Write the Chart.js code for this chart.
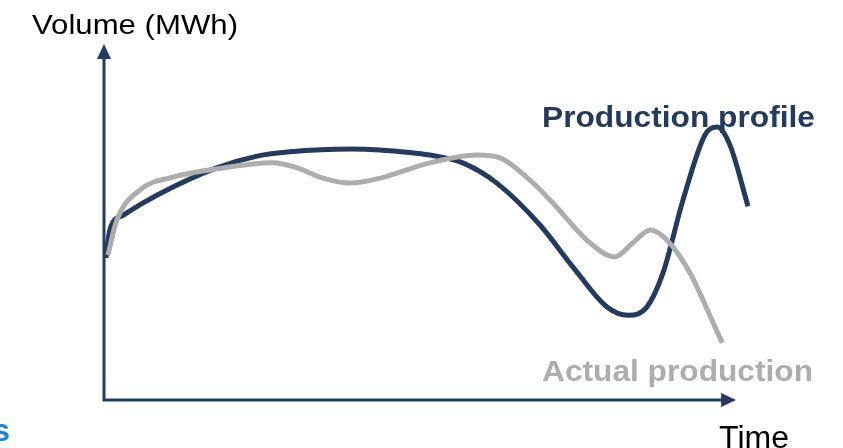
<!DOCTYPE html>
<html lang="en">
<head>
    <meta charset="UTF-8">
    <title>Production profile vs actual production</title>
    <script src="https://cdn.jsdelivr.net/npm/chart.js"></script>
    <style>
        html, body { margin: 0; padding: 0; background: #fff; }
        #wrap { width: 843px; height: 448px; }
    </style>
</head>
<body>
    <div id="wrap"><canvas id="profileChart" width="843" height="448"></canvas></div>

    <script>
        // time (0-100) and volume (0-100)
        const profileTime = [0.3, 0.9, 3.0, 8.2, 17.5, 23.8, 28.9, 38.2, 42.9, 50.6, 55.7, 61.0, 67.7, 72.8, 78.1, 81.4, 84.3, 86.8, 89.9, 93.3, 95.2, 97.2, 100];
        const profileVolume = [40.0, 47.9, 52.1, 57.7, 65.4, 68.7, 69.9, 70.7, 70.4, 69.0, 66.8, 61.1, 49.3, 37.5, 26.2, 23.9, 26.2, 35.8, 56.3, 74.6, 76.9, 71.8, 54.6];

        const actualTime = [0.6, 2.0, 5.6, 10.7, 17.5, 26.2, 30.0, 34.0, 38.2, 42.9, 50.6, 57.9, 61.5, 66.1, 69.3, 75.5, 79.3, 82.1, 84.8, 87.4, 91.0, 94.6, 96.0];
        const actualVolume = [40.8, 50.7, 59.2, 62.8, 65.1, 66.8, 65.4, 62.5, 61.1, 62.5, 66.8, 69.0, 68.2, 62.0, 56.3, 44.2, 40.3, 44.2, 47.9, 45.1, 35.8, 21.7, 16.1];

        const seriesNames = ['Production profile', 'Actual production'];
        const axisTitles = ['Volume (MWh)', 'Time'];

        const NAVY = '#243a5e';
        const GREY = '#adadad';
        const FONT = '"Liberation Sans", Arial, sans-serif';

        function toPoints(xs, ys) {
            return xs.map((x, i) => ({ x: x, y: ys[i] }));
        }

        // text squeezed/stretched to the width it has in the slide
        function fitText(ctx, text, left, baseline, width, font) {
            ctx.font = font;
            const w = ctx.measureText(text).width;
            ctx.save();
            ctx.translate(left, baseline);
            ctx.scale(width / w, 1);
            ctx.fillText(text, 0, 0);
            ctx.restore();
        }

        // axes with arrow heads plus the free-floating labels
        const sketchPlugin = {
            id: 'sketch',
            beforeDatasetsDraw(chart) {
                const ctx = chart.ctx;
                const xs = chart.scales.x, ys = chart.scales.y;
                const x0 = xs.getPixelForValue(0), y0 = ys.getPixelForValue(0);
                const yTop = ys.getPixelForValue(100);
                const xEnd = xs.getPixelForValue(98);
                ctx.save();
                ctx.strokeStyle = NAVY;
                ctx.fillStyle = NAVY;
                ctx.lineWidth = 3;
                ctx.beginPath();
                ctx.moveTo(x0, yTop + 12);
                ctx.lineTo(x0, y0);
                ctx.lineTo(xEnd - 12, y0);
                ctx.stroke();
                // up arrow
                ctx.beginPath();
                ctx.moveTo(x0, yTop - 1);
                ctx.lineTo(x0 - 7, yTop + 14);
                ctx.lineTo(x0 + 7, yTop + 14);
                ctx.closePath();
                ctx.fill();
                // right arrow
                ctx.beginPath();
                ctx.moveTo(xEnd + 1, y0);
                ctx.lineTo(xEnd - 14, y0 - 7);
                ctx.lineTo(xEnd - 14, y0 + 7);
                ctx.closePath();
                ctx.fill();
                ctx.restore();
            },
            afterDatasetsDraw(chart) {
                const ctx = chart.ctx;
                ctx.save();
                ctx.textBaseline = 'alphabetic';
                ctx.textAlign = 'left';
                ctx.fillStyle = '#000';
                fitText(ctx, axisTitles[0], 32, 34, 206, '28px ' + FONT);
                fitText(ctx, axisTitles[1], 719, 448, 70, '31px ' + FONT);
                ctx.fillStyle = NAVY;
                fitText(ctx, seriesNames[0], 542, 127, 273, 'bold 30px ' + FONT);
                ctx.fillStyle = GREY;
                fitText(ctx, seriesNames[1], 542, 381, 271, 'bold 30px ' + FONT);
                // tail of a word cut off at the slide edge
                ctx.fillStyle = '#1a87c8';
                ctx.font = 'bold 32px ' + FONT;
                ctx.textAlign = 'right';
                ctx.fillText('s', 10, 441);
                ctx.restore();
            }
        };

        new Chart(document.getElementById('profileChart'), {
            type: 'line',
            data: {
                datasets: [
                    {
                        label: seriesNames[1],
                        data: toPoints(actualTime, actualVolume),
                        borderColor: GREY,
                        borderWidth: 5,
                        borderCapStyle: 'butt',
                        cubicInterpolationMode: 'monotone',
                        pointRadius: 0,
                        fill: false
                    },
                    {
                        label: seriesNames[0],
                        data: toPoints(profileTime, profileVolume),
                        borderColor: NAVY,
                        borderWidth: 5,
                        borderCapStyle: 'butt',
                        cubicInterpolationMode: 'monotone',
                        pointRadius: 0,
                        fill: false
                    }
                ]
            },
            options: {
                responsive: false,
                animation: false,
                clip: false,
                layout: { padding: { left: 104, right: 95, top: 45, bottom: 48 } },
                plugins: {
                    legend: { display: false },
                    tooltip: { enabled: false }
                },
                scales: {
                    x: { type: 'linear', min: 0, max: 100, display: false },
                    y: { type: 'linear', min: 0, max: 100, display: false }
                }
            },
            plugins: [sketchPlugin]
        });
    </script>
</body>
</html>
